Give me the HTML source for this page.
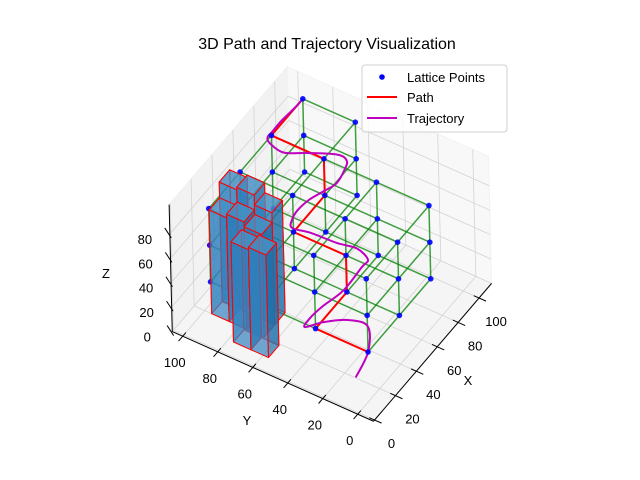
<!DOCTYPE html>
<html><head><meta charset="utf-8"><style>
html,body{margin:0;padding:0;background:#fff;}
svg{display:block;font-family:"Liberation Sans","DejaVu Sans",sans-serif;}
</style></head><body>
<svg id="chart" width="640" height="480" viewBox="0 0 640 480" xmlns="http://www.w3.org/2000/svg">
<rect x="0" y="0" width="640" height="480" fill="#fff"/>
<text x="327" y="49" font-size="16" text-anchor="middle" fill="#000">3D Path and Trajectory Visualization</text>
<g id="axes3d"></g>
<g id="legend">
<rect x="362" y="65" width="145" height="67" rx="3" fill="#fff" fill-opacity="0.8" stroke="#d0d0d0"/>
<circle cx="382" cy="77" r="2.8" fill="#0000ff"/>
<text x="407" y="82" font-size="13" fill="#000">Lattice Points</text>
<line x1="367" y1="97" x2="397" y2="97" stroke="#ff0000" stroke-width="2"/>
<text x="407" y="102" font-size="13" fill="#000">Path</text>
<line x1="367" y1="118" x2="397" y2="118" stroke="#bf00bf" stroke-width="2"/>
<text x="407" y="123" font-size="13" fill="#000">Trajectory</text>
</g>
</svg>
<script>
// ---- data ----
var latticeX = [10, 40, 70, 100];
var latticeY = [0, 30, 60, 90];
var latticeZ = [40, 70, 100];
var missingColumns = [[100, 30], [100, 0]];
var pathX = [10, 10, 40, 40, 40, 70, 70, 70, 100];
var pathY = [0, 30, 30, 30, 60, 60, 60, 90, 90];
var pathZ = [40, 40, 40, 70, 70, 70, 100, 100, 100];
var trajX = [6, 10, 25, 24, 16, 8, 15, 25, 40, 48, 49, 47, 45, 44, 42, 47, 54, 63, 72, 73, 76, 75, 76, 69, 63, 65, 68, 72, 82, 94, 100];
var trajY = [5, 0, 9, 19, 29, 35, 36, 35, 32, 26, 23, 28, 38, 53, 62, 65, 66, 65, 62, 55, 52, 50, 56, 69, 79, 88, 91, 91, 91, 90, 90];
var trajZ = [20, 40, 40, 40, 40, 40, 40, 40, 40, 55, 62, 70, 70, 70, 70, 70, 70, 70, 70, 80, 90, 100, 100, 100, 100, 100, 100, 100, 100, 100, 100];
var barX = [20, 20, 20, 30, 30, 30, 9, 9];
var barY = [86, 76, 66, 86, 76, 66, 67, 57];
var barH = [85, 88, 84, 98, 100, 92, 82, 84];
var barSize = 10;
var xTicks = [0, 20, 40, 60, 80, 100];
var yTicks = [0, 20, 40, 60, 80, 100];
var zTicks = [0, 20, 40, 60, 80];
var xLim = [-1, 112], yLim = [-9, 106], zLim = [0, 104];

// ---- projection ----
function P(x, y, z) { return [358.8 + 1.045 * x - 1.75 * y - 0.03 * z, 413 - 1.22 * x - 0.78 * y - 1.22 * z]; }
var NS = "http://www.w3.org/2000/svg";
var root = document.getElementById('axes3d');
function mk(tag, attrs, parent) {
  var e = document.createElementNS(NS, tag);
  for (var k in attrs) e.setAttribute(k, attrs[k]);
  (parent || root).appendChild(e);
  return e;
}
function pts(arr) { return arr.map(function (p) { var q = P(p[0], p[1], p[2]); return q[0].toFixed(1) + ',' + q[1].toFixed(1); }).join(' '); }
var x0 = xLim[0], x1 = xLim[1], y0 = yLim[0], y1 = yLim[1], z0 = zLim[0], z1 = zLim[1];

// panes
var floor = mk('polygon', { points: pts([[x0, y0, z0], [x1, y0, z0], [x1, y1, z0], [x0, y1, z0]]), fill: '#f5f5f5', stroke: '#f0f0f0' });


var ypane = mk('polygon', { points: pts([[x0, y1, z0], [x1, y1, z0], [x1, y1, z1], [x0, y1, z1]]), fill: '#f2f2f2', stroke: '#efefef' });


var xpane = mk('polygon', { points: pts([[x1, y0, z0], [x1, y1, z0], [x1, y1, z1], [x1, y0, z1]]), fill: '#f8f8f8', stroke: '#f2f2f2' });



// grid
var grid = mk('g', { stroke: '#d3d3d3', 'stroke-width': 0.8, fill: 'none' });


function gl(a, b) { var p = P(a[0], a[1], a[2]), q = P(b[0], b[1], b[2]); mk('line', { x1: p[0], y1: p[1], x2: q[0], y2: q[1] }, grid); }
xTicks.forEach(function (t) { gl([t, y0, z0], [t, y1, z0]); gl([t, y1, z0], [t, y1, z1]); });
yTicks.forEach(function (t) { gl([x0, t, z0], [x1, t, z0]); gl([x1, t, z0], [x1, t, z1]); });
zTicks.forEach(function (t) { gl([x0, y1, t], [x1, y1, t]); gl([x1, y0, t], [x1, y1, t]); });

// axes lines
function axisLine(a, b, name) {
  var p = P(a[0], a[1], a[2]), q = P(b[0], b[1], b[2]);
  var l = mk('line', { x1: p[0], y1: p[1], x2: q[0], y2: q[1], stroke: '#000', 'stroke-width': 1 });
  
  
}
axisLine([x0, y0, z0], [x1, y0, z0], 'x-axis-line');
axisLine([x0, y0, z0], [x0, y1, z0], 'y-axis-line');
axisLine([x0, y1, z0], [x0, y1, z1], 'z-axis-line');

var labels = mk('g', { 'font-size': 13, fill: '#000' });


xTicks.forEach(function (t) {
  var p = P(t, y0, z0), q = P(t, y0 - 4, z0), r = P(t, y0 + 3, z0);
  var tk = mk('line', { x1: r[0], y1: r[1], x2: q[0], y2: q[1], stroke: '#000', 'stroke-width': 1 });
  
  
  var tx = mk('text', { x: p[0] + 17, y: p[1] + 28, 'text-anchor': 'middle' }, labels);
  tx.textContent = t;
  
  
});
yTicks.forEach(function (t) {
  var p = P(x0, t, z0), q = P(x0 - 4, t, z0), r = P(x0 + 3, t, z0);
  var tk = mk('line', { x1: r[0], y1: r[1], x2: q[0], y2: q[1], stroke: '#000', 'stroke-width': 1 });
  
  
  var tx = mk('text', { x: p[0] - 8, y: p[1] + 31, 'text-anchor': 'middle' }, labels);
  tx.textContent = t;
  
  
});
zTicks.forEach(function (t) {
  var p = P(x0, y1, t), q = P(x0 + 3, y1 + 3, t), r = P(x0 - 2, y1 - 2, t);
  var tk = mk('line', { x1: r[0], y1: r[1], x2: q[0] - 3, y2: q[1], stroke: '#000', 'stroke-width': 1 });
  
  
  var tx = mk('text', { x: p[0] - 25, y: p[1] + 10, 'text-anchor': 'middle' }, labels);
  tx.textContent = t;
  
  
});
var xt = mk('text', { x: 468, y: 385, 'font-size': 13, 'text-anchor': 'middle' });
xt.textContent = 'X';


var yt = mk('text', { x: 247, y: 425, 'font-size': 13, 'text-anchor': 'middle' });
yt.textContent = 'Y';


var zt = mk('text', { x: 106, y: 278, 'font-size': 13, 'text-anchor': 'middle' });
zt.textContent = 'Z';



// lattice
function present(x, y) { for (var i = 0; i < missingColumns.length; i++) if (missingColumns[i][0] === x && missingColumns[i][1] === y) return false; return true; }
var edges = mk('g', { stroke: '#008000', 'stroke-opacity': 0.75, 'stroke-width': 1.5 });


function edge(a, b) { var p = P(a[0], a[1], a[2]), q = P(b[0], b[1], b[2]); var l = mk('line', { x1: p[0], y1: p[1], x2: q[0], y2: q[1] }, edges);   }
for (var i = 0; i < latticeX.length; i++) for (var j = 0; j < latticeY.length; j++) for (var k = 0; k < latticeZ.length; k++) {
  var x = latticeX[i], y = latticeY[j], z = latticeZ[k];
  if (!present(x, y)) continue;
  if (i + 1 < latticeX.length && present(latticeX[i + 1], y)) edge([x, y, z], [latticeX[i + 1], y, z]);
  if (j + 1 < latticeY.length && present(x, latticeY[j + 1])) edge([x, y, z], [x, latticeY[j + 1], z]);
  if (k + 1 < latticeZ.length) edge([x, y, z], [x, y, latticeZ[k + 1]]);
}

// path
var pathPts = pathX.map(function (v, i) { return [v, pathY[i], pathZ[i]]; });
var pathEl = mk('polyline', { points: pts(pathPts), fill: 'none', stroke: '#ff0000', 'stroke-width': 2, 'stroke-linejoin': 'round' });



// trajectory (smooth through points)
var tp = trajX.map(function (v, i) { return P(v, trajY[i], trajZ[i]); });
var d = 'M' + tp[0][0].toFixed(1) + ',' + tp[0][1].toFixed(1);
for (var n = 0; n < tp.length - 1; n++) {
  var p0 = tp[Math.max(0, n - 1)], p1 = tp[n], p2 = tp[n + 1], p3 = tp[Math.min(tp.length - 1, n + 2)];
  var c1 = [p1[0] + (p2[0] - p0[0]) / 6, p1[1] + (p2[1] - p0[1]) / 6];
  var c2 = [p2[0] - (p3[0] - p1[0]) / 6, p2[1] - (p3[1] - p1[1]) / 6];
  d += ' C' + c1[0].toFixed(1) + ',' + c1[1].toFixed(1) + ' ' + c2[0].toFixed(1) + ',' + c2[1].toFixed(1) + ' ' + p2[0].toFixed(1) + ',' + p2[1].toFixed(1);
}
var trajEl = mk('path', { d: d, fill: 'none', stroke: '#bf00bf', 'stroke-width': 2, 'stroke-linejoin': 'round' });



// lattice points
var ptsG = mk('g', { fill: '#0000ff', 'fill-opacity': 0.9 });


latticeX.forEach(function (x) { latticeY.forEach(function (y) { if (!present(x, y)) return; latticeZ.forEach(function (z) {
  var p = P(x, y, z);
  var c = mk('circle', { cx: p[0], cy: p[1], r: 2.8 }, ptsG);
  
  
}); }); });

// bars
var barsG = mk('g', {});


var order = barX.map(function (v, i) { return i; }).sort(function (a, b) { return (barX[b] + barY[b]) - (barX[a] + barY[a]); });
order.forEach(function (i) {
  var bx = barX[i], by = barY[i], h = barH[i], s = barSize;
  var g = mk('g', { stroke: '#ff0000', 'stroke-width': 1, 'stroke-linejoin': 'round' }, barsG);
  
  
  var faces = [
    [[[bx + s, by, 0], [bx + s, by + s, 0], [bx + s, by + s, h], [bx + s, by, h]], '#1f77b4', 0.45],
    [[[bx, by + s, 0], [bx + s, by + s, 0], [bx + s, by + s, h], [bx, by + s, h]], '#1f77b4', 0.45],
    [[[bx, by, 0], [bx, by + s, 0], [bx, by + s, h], [bx, by, h]], '#3583c0', 0.7],
    [[[bx, by, 0], [bx + s, by, 0], [bx + s, by, h], [bx, by, h]], '#1f70aa', 0.7],
    [[[bx, by, h], [bx + s, by, h], [bx + s, by + s, h], [bx, by + s, h]], '#4f95c8', 0.7]
  ];
  faces.forEach(function (f) {
    var pg = mk('polygon', { points: pts(f[0]), fill: f[1], 'fill-opacity': f[2] }, g);
    
    
  });
});
</script>
</body></html>
